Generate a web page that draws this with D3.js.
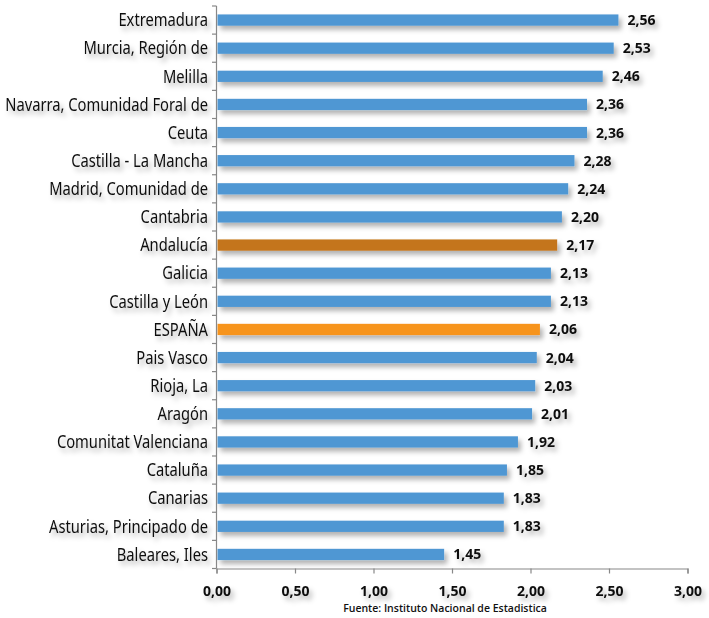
<!DOCTYPE html>
<html><head><meta charset="utf-8">
<script src="https://cdn.jsdelivr.net/npm/d3@7/dist/d3.min.js"></script>
<style>
body{margin:0;background:#fff;}
svg{display:block;}
</style></head>
<body>
<svg id="chart" width="709" height="618"></svg>
<script>
const categories = ["Extremadura","Murcia, Región de","Melilla","Navarra, Comunidad Foral de","Ceuta","Castilla - La Mancha","Madrid, Comunidad de","Cantabria","Andalucía","Galicia","Castilla y León","ESPAÑA","Pais Vasco","Rioja, La","Aragón","Comunitat Valenciana","Cataluña","Canarias","Asturias, Principado de","Baleares, Iles"];
const values = [2.56,2.53,2.46,2.36,2.36,2.28,2.24,2.20,2.17,2.13,2.13,2.06,2.04,2.03,2.01,1.92,1.85,1.83,1.83,1.45];
const highlight = {"Andalucía":"#c4751a","ESPAÑA":"#f7941e"};
const tickValues = [0,0.5,1,1.5,2,2.5,3];
const source = "Fuente: Instituto Nacional de Estadistica";

const svg = d3.select("#chart");
const defs = svg.append("defs");
const f = defs.append("filter").attr("id","sh").attr("x","-20%").attr("y","-50%").attr("width","150%").attr("height","250%");
f.append("feDropShadow").attr("dx",3).attr("dy",4).attr("stdDeviation",2.5).attr("flood-color","#000").attr("flood-opacity",0.3);

const x = d3.scaleLinear().domain([0,3]).range([216.5,687.5]);
const y = d3.scaleBand().domain(categories).range([6,568.5]).paddingInner(0.6).paddingOuter(0.3);
const step = y.step();
const fmt = d => d3.format(".2f")(d).replace(".",",");

// bars
svg.append("g").selectAll("rect").data(categories).join("rect")
  .attr("x", x(0)+1)
  .attr("y", d => y(d))
  .attr("width", (d,i) => x(values[i]) - x(0) - 1)
  .attr("height", y.bandwidth())
  .attr("fill", d => highlight[d] || "#4f97d3")
  .attr("filter","url(#sh)");

// value labels
svg.append("g").selectAll("text").data(categories).join("text")
  .attr("x", (d,i) => x(values[i]) + 9)
  .attr("y", d => y(d) + y.bandwidth()/2)
  .attr("dy","0.36em")
  .attr("font-family","'Open Sans', sans-serif")
  .attr("font-weight","bold")
  .attr("font-size",14)
  .attr("fill","#111")
  .attr("filter","url(#sh)")
  .text((d,i) => fmt(values[i]));

// category labels (condensed horizontally)
const labG = svg.append("g").attr("filter","url(#sh)");
const labs = labG.selectAll("text").data(categories).join("text")
  .attr("x", 0)
  .attr("y", 0)
  .attr("dy","0.36em")
  .attr("text-anchor","end")
  .attr("font-family","'Noto Sans', sans-serif")
  .attr("font-size",17.5)
  .attr("fill","#111")
  .text(d => d);
let maxLen = 0;
labs.each(function(){ maxLen = Math.max(maxLen, this.getComputedTextLength()); });
const k = 203 / maxLen;
labs.attr("transform", d => `translate(208,${y(d) + y.bandwidth()/2}) scale(${k},1)`);

// y axis line with ticks between categories
const yAxisG = svg.append("g").attr("stroke","#888").attr("stroke-width",1.2);
yAxisG.append("line").attr("x1",216.5).attr("x2",216.5).attr("y1",6).attr("y2",568.5);
const bounds = d3.range(categories.length + 1).map(i => 6 + i*step);
yAxisG.selectAll("line.t").data(bounds).join("line").attr("class","t")
  .attr("x1",212).attr("x2",216.5).attr("y1",d=>d).attr("y2",d=>d);

// x axis
const xAxis = d3.axisBottom(x).tickValues(tickValues).tickSize(5).tickFormat(fmt);
const xg = svg.append("g").attr("transform","translate(0,568.5)").call(xAxis);
xg.select(".domain").attr("stroke","#888").attr("stroke-width",1.2);
xg.selectAll(".tick line").attr("stroke","#888").attr("stroke-width",1.2);
xg.selectAll(".tick text")
  .attr("y",27)
  .attr("dy","0")
  .attr("font-family","'Open Sans', sans-serif")
  .attr("font-weight","bold")
  .attr("font-size",14)
  .attr("fill","#111")
  .attr("filter","url(#sh)");

svg.append("text")
  .attr("x",445).attr("y",612)
  .attr("text-anchor","middle")
  .attr("font-family","'Open Sans', sans-serif")
  .attr("font-weight","600")
  .attr("font-size",10.5)
  .attr("fill","#111")
  .text(source);
</script>
</body></html>
